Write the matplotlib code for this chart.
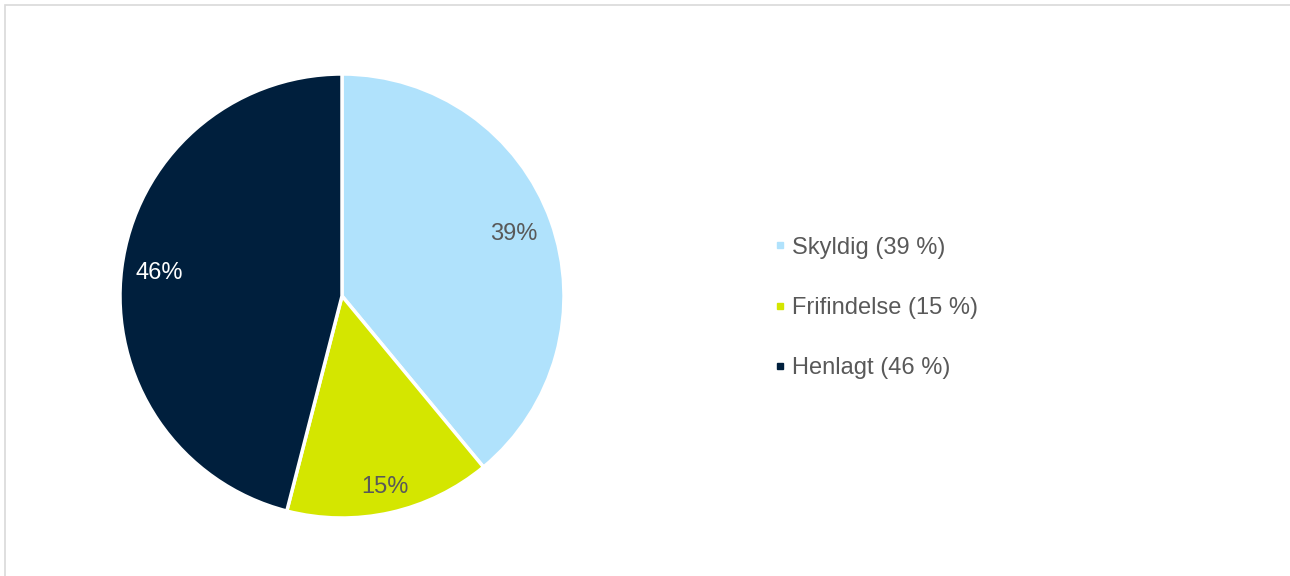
import matplotlib.pyplot as plt
from matplotlib.lines import Line2D
from matplotlib.patches import Rectangle
import numpy as np

plt.rcParams['font.family'] = ['Liberation Sans', 'DejaVu Sans']

labels = ['Skyldig', 'Frifindelse', 'Henlagt']
shares = [39, 15, 46]
colors = ['#B0E2FC', '#D4E600', '#001F3D']
pct_colors = ['#595959', '#595959', 'white']
pct_dist = [0.82, 0.88, 0.83]

W, H = 1290, 576
fig = plt.figure(figsize=(W / 100, H / 100), dpi=100)

# chart area border (cut off on right/bottom like the source)
fig.patches.append(Rectangle((5 / W, -0.1), 1.2, 1 - 5 / H + 0.1,
                             transform=fig.transFigure, fill=False,
                             edgecolor='#D9D9D9', linewidth=1.2))

cx, cy, r = 342, H - 296, 222
ax = fig.add_axes([(cx - r) / W, (cy - r) / H, 2 * r / W, 2 * r / H])
wedges, _, autotexts = ax.pie(
    shares, colors=colors, startangle=90, counterclock=False,
    autopct='%d%%', pctdistance=0.84,
    wedgeprops=dict(edgecolor='white', linewidth=2.5),
)
for w, t, c, d in zip(wedges, autotexts, pct_colors, pct_dist):
    ang = np.deg2rad((w.theta1 + w.theta2) / 2)
    t.set_position((d * np.cos(ang), d * np.sin(ang)))
    t.set_color(c)
    t.set_fontsize(17)
ax.set_xlim(-1, 1)
ax.set_ylim(-1, 1)
ax.set_aspect('equal')
ax.axis('off')

handles = [Line2D([], [], linestyle='none', marker='s', markersize=5,
                  markerfacecolor=c, markeredgecolor=c) for c in colors]
leg_labels = [f'{l} ({s} %)' for l, s in zip(labels, shares)]
fig.legend(handles, leg_labels, loc='center left',
           bbox_to_anchor=(755 / W, (H - 308) / H), frameon=False,
           fontsize=17, labelcolor='#595959', labelspacing=1.62,
           handlelength=0.35, handletextpad=0.3)

fig.savefig('out.png', dpi=100)
